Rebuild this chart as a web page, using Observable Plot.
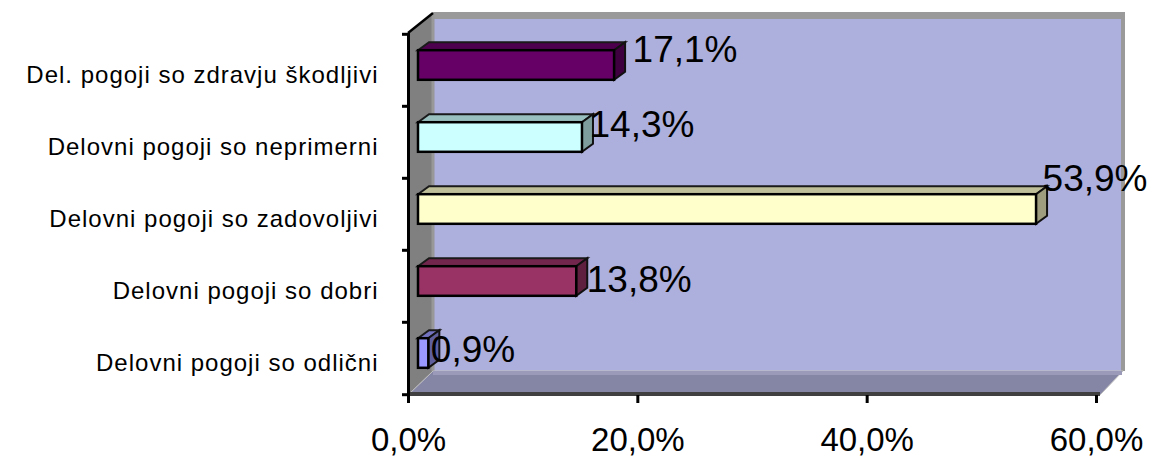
<!DOCTYPE html>
<html><head><meta charset="utf-8">
<script src="https://cdn.jsdelivr.net/npm/d3@7"></script>
<script src="https://cdn.jsdelivr.net/npm/@observablehq/plot@0.6"></script>
<style>body{margin:0;background:#fff;}</style>
</head><body><div id="chart"></div>
<script>
// ---- data ----
const categories = [
  "Del. pogoji so zdravju škodljivi",
  "Delovni pogoji so neprimerni",
  "Delovni pogoji so zadovoljivi",
  "Delovni pogoji so dobri",
  "Delovni pogoji so odlični"
];
const values = [17.1, 14.3, 53.9, 13.8, 0.9];
const barColors = ["#660066", "#CCFFFF", "#FFFFCC", "#993366", "#9999FF"];
const xTicks = [0, 20, 40, 60];

// ---- layout (not data) ----
const W = 1154, H = 457, mL = 408, mR = 58, mT = 33, mB = 62;
const bw = (H - mT - mB) / categories.length;
const barH = 30;
const depth = {x: 11, y: 8};
const labelNudges = [[28, -20], [17, -17], [16, -35], [20, -6], [12, -8]];

const data = categories.map((c, i) => ({cat: c, value: values[i], color: barColors[i]}));
const fmt = v => v.toFixed(1).replace(".", ",") + "%";

const plot = Plot.plot({
  width: W, height: H,
  marginLeft: mL, marginRight: mR, marginTop: mT, marginBottom: mB,
  style: {fontFamily: "'Liberation Sans', Arial, sans-serif", color: "#000", background: "transparent"},
  x: {domain: [0, 60], label: null},
  y: {domain: categories, padding: 0, label: null},
  color: {type: "identity"},
  marks: [
    Plot.rect(data, {
      x1: 0, x2: "value", y: "cat", fill: "color",
      stroke: "#000", strokeWidth: 2.5,
      insetTop: (bw - barH) / 2, insetBottom: (bw - barH) / 2,
      dx: 10, dy: -5
    }),
    Plot.ruleX([0], {stroke: "#000", strokeWidth: 3, insetBottom: -2}),
    Plot.axisY({tickSize: 6, tickFormat: () => "", dy: -bw / 2, strokeWidth: 3}),
    Plot.axisY({ticks: [categories[categories.length - 1]], tickSize: 6, tickFormat: () => "", dy: bw / 2, strokeWidth: 3}),
    Plot.axisY({tickSize: 0, tickPadding: 30, fontSize: 24, dy: 5}),
    Plot.axisX({ticks: xTicks, tickFormat: fmt, tickSize: 8, strokeWidth: 3, tickPadding: 24, fontSize: 33}),
    ...data.map((d, i) => Plot.text([d], {
      x: "value", y: "cat", text: d => fmt(d.value),
      textAnchor: "start", fontSize: 37, fill: "#000",
      dx: labelNudges[i][0], dy: labelNudges[i][1]
    }))
  ]
});

// ---- 3D bar faces (derived from the rendered bar rects) ----
const colorSet = new Set(barColors.map(c => d3.rgb(c).formatHex()));
const ns = "http://www.w3.org/2000/svg";
Array.from(plot.querySelectorAll("rect")).forEach(r => {
  const f = r.getAttribute("fill");
  if (!f || !colorSet.has(d3.rgb(f).formatHex())) return;
  const x = +r.getAttribute("x"), y = +r.getAttribute("y");
  const w = +r.getAttribute("width"), h = +r.getAttribute("height");
  const c = d3.rgb(f);
  const shade = k => d3.rgb(c.r * k, c.g * k, c.b * k).formatHex();
  const top = document.createElementNS(ns, "polygon");
  top.setAttribute("points", `${x},${y} ${x + depth.x},${y - depth.y} ${x + w + depth.x},${y - depth.y} ${x + w},${y}`);
  top.setAttribute("fill", shade(0.75));
  top.setAttribute("stroke", "#1a1a1a");
  top.setAttribute("stroke-width", 2);
  const side = document.createElementNS(ns, "polygon");
  side.setAttribute("points", `${x + w},${y} ${x + w + depth.x},${y - depth.y} ${x + w + depth.x},${y + h - depth.y} ${x + w},${y + h}`);
  side.setAttribute("fill", shade(0.62));
  side.setAttribute("stroke", "#111");
  side.setAttribute("stroke-width", 2);
  r.parentNode.insertBefore(top, r);
  r.parentNode.insertBefore(side, r);
});

// ---- 3D decoration: walls & floor ----
const X0 = mL, X1 = W - mR, Y0 = mT, Y1 = H - mB;
const DX = 25, DY = 24, wallTop = 12;
const bg = d3.create("svg:g").attr("aria-label", "walls");
bg.append("rect").attr("x", X0 + DX).attr("y", wallTop).attr("width", X1 + DX + 4 - (X0 + DX)).attr("height", Y1 - DY - wallTop).attr("fill", "#9a9a9a");
bg.append("rect").attr("x", X0 + DX).attr("y", wallTop + 7).attr("width", X1 - X0).attr("height", Y1 - DY - wallTop - 7).attr("fill", "#ADAFDC");
bg.append("polygon").attr("points", `${X0},${Y0} ${X0 + DX},${wallTop + 1} ${X0 + DX},${Y1 - DY} ${X0},${Y1}`).attr("fill", "#808080");
bg.append("line").attr("x1", X0 + DX).attr("x2", X0 + DX).attr("y1", wallTop + 2).attr("y2", Y1 - DY).attr("stroke", "#989898").attr("stroke-width", 3);
bg.append("line").attr("x1", X0).attr("y1", Y0).attr("x2", X0 + DX).attr("y2", wallTop + 1).attr("stroke", "#000").attr("stroke-width", 2.5);
bg.append("polygon").attr("points", `${X0},${Y1} ${X0 + DX},${Y1 - DY} ${X1 + DX + 2},${Y1 - DY} ${X1 + 4},${Y1}`).attr("fill", "#8585A6").attr("stroke", "#c0c0c0").attr("stroke-width", 1);
bg.append("rect").attr("x", X0 + DX).attr("y", Y1 - DY).attr("width", X1 - X0 + 1).attr("height", 4).attr("fill", "#9B9BB9");
bg.append("line").attr("x1", X0).attr("x2", X1 + 4).attr("y1", Y1 - 1).attr("y2", Y1 - 1).attr("stroke", "#404040").attr("stroke-width", 4);
const styleEl = plot.querySelector("style");
plot.insertBefore(bg.node(), styleEl ? styleEl.nextSibling : plot.firstChild);

// letter spacing on category labels
d3.select(plot).selectAll('g[aria-label="y-axis tick label"] text').style("letter-spacing", "1px");

document.getElementById("chart").appendChild(plot);
</script>
</body></html>
